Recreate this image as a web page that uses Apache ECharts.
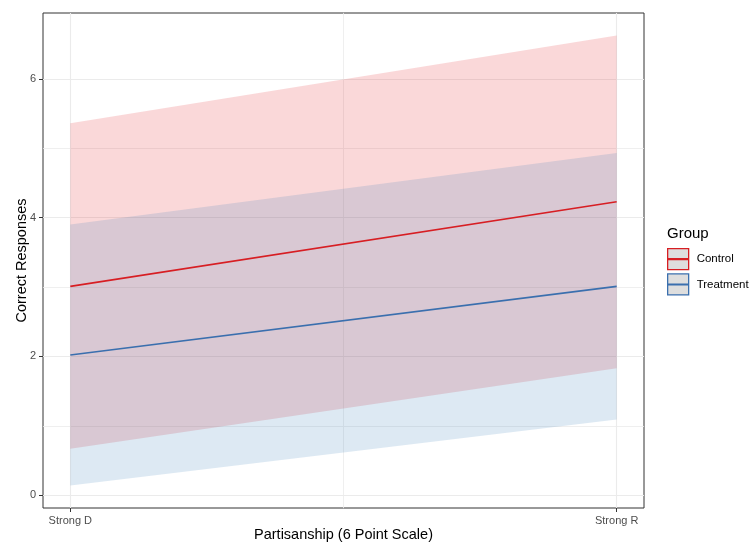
<!DOCTYPE html>
<html>
<head>
<meta charset="utf-8">
<script src="https://cdn.jsdelivr.net/npm/echarts@6/dist/echarts.min.js"></script>
<style>
  html, body { margin: 0; padding: 0; background: #ffffff; }
  #chart { width: 754px; height: 546px; }
</style>
</head>
<body>
<div id="chart"></div>
<script>
// Partisanship scale positions (1 = Strong D ... 6 = Strong R)
const xPoints = [1, 6];
const xTickLabels = { 1: 'Strong D', 6: 'Strong R' };
const yTicks = [0, 2, 4, 6];
const groups = ['Control', 'Treatment'];

// Predicted correct responses and confidence band per group
const controlFit = [3.01, 4.23];
const controlLower = [0.67, 1.83];
const controlUpper = [5.36, 6.625];
const treatmentFit = [2.02, 3.01];
const treatmentLower = [0.14, 1.09];
const treatmentUpper = [3.90, 4.93];

const fillColors = { Control: '#E41A1C', Treatment: '#377EB8' };
const lineColors = { Control: '#D71E23', Treatment: '#3A6FAE' };
const bandAlpha = 0.17;

function rgba(hex, a) {
  const n = parseInt(hex.slice(1), 16);
  return 'rgba(' + (n >> 16) + ',' + ((n >> 8) & 255) + ',' + (n & 255) + ',' + a + ')';
}

// ggplot-style 5% expansion of the data range
function expand(lo, hi) {
  const pad = (hi - lo) * 0.05;
  return [lo - pad, hi + pad];
}
const allY = [].concat(controlLower, controlUpper, treatmentLower, treatmentUpper);
const yRange = expand(Math.min.apply(null, allY), Math.max.apply(null, allY));
const xRange = expand(Math.min.apply(null, xPoints), Math.max.apply(null, xPoints));

// Grid lines: majors at ticks, minors half-way between them
const xMinor = [];
for (let i = 0; i < xPoints.length - 1; i++) xMinor.push((xPoints[i] + xPoints[i + 1]) / 2);
const yMinor = [];
for (let i = 0; i < yTicks.length - 1; i++) yMinor.push((yTicks[i] + yTicks[i + 1]) / 2);

const gridColor = '#EBEBEB';
const gridLines = []
  .concat(yTicks.map(v => ({ yAxis: v, lineStyle: { width: 1.1 } })))
  .concat(yMinor.map(v => ({ yAxis: v, lineStyle: { width: 0.8 } })))
  .concat(xPoints.map(v => ({ xAxis: v, lineStyle: { width: 1.1 } })))
  .concat(xMinor.map(v => ({ xAxis: v, lineStyle: { width: 0.8 } })));

function pairs(ys) { return xPoints.map((x, i) => [x, ys[i]]); }

// Each band item spans two neighbouring x positions: [x0, lo0, hi0, x1, lo1, hi1]
function bandItems(lo, hi) {
  const items = [];
  for (let i = 0; i < xPoints.length - 1; i++) {
    items.push([xPoints[i], lo[i], hi[i], xPoints[i + 1], lo[i + 1], hi[i + 1]]);
  }
  return items;
}

function bandSeries(name, lo, hi, z) {
  const fill = rgba(fillColors[name], bandAlpha);
  return {
    name: name + ' band', type: 'custom', silent: true, z: z,
    encode: { x: [0, 3], y: [1, 2, 4, 5] },
    data: bandItems(lo, hi),
    renderItem: function (params, api) {
      const a = api.coord([api.value(0), api.value(1)]);
      const b = api.coord([api.value(3), api.value(4)]);
      const c = api.coord([api.value(3), api.value(5)]);
      const d = api.coord([api.value(0), api.value(2)]);
      return {
        type: 'polygon',
        shape: { points: [a, b, c, d] },
        style: { fill: fill, stroke: null }
      };
    }
  };
}

function fitSeries(name, ys) {
  return {
    name: name, type: 'line', data: pairs(ys), symbol: 'none', z: 12,
    color: lineColors[name],
    lineStyle: { color: lineColors[name], width: 1.6 }
  };
}

const keyIcon = 'path://M0,0L20,0L20,20L0,20Z M0,9.6L20,9.6L20,10.4L0,10.4Z';

const option = {
  animation: false,
  backgroundColor: '#ffffff',
  textStyle: { fontFamily: 'Liberation Sans, Arial, sans-serif' },
  grid: {
    left: 43, right: 110, top: 13, bottom: 38,
    outerBoundsMode: 'none', containLabel: false,
    show: true, borderColor: '#333333', borderWidth: 1, backgroundColor: 'transparent'
  },
  title: {
    text: 'Group', left: 667, top: 226, padding: 0,
    textStyle: { fontSize: 15, fontWeight: 'normal', color: '#000000', fontFamily: 'Liberation Sans, Arial, sans-serif' }
  },
  legend: {
    orient: 'vertical', left: 667, top: 248, padding: 0,
    itemWidth: 21, itemHeight: 21, itemGap: 3,
    selectedMode: false,
    textStyle: { fontSize: 11.5, color: '#000000', padding: [0, 0, 0, 3] },
    data: groups.map(g => ({
      name: g, icon: keyIcon,
      itemStyle: { color: '#DEDEDE', borderColor: lineColors[g], borderWidth: 1.3, opacity: 1 }
    }))
  },
  xAxis: {
    type: 'value', min: xRange[0], max: xRange[1],
    name: 'Partisanship (6 Point Scale)', nameLocation: 'middle', nameGap: 19,
    nameMoveOverlap: false,
    nameTextStyle: { fontSize: 14.5, color: '#000000' },
    axisLine: { show: false, onZero: false },
    axisTick: { show: true, customValues: xPoints, length: 4, lineStyle: { color: '#333333', width: 1 } },
    axisLabel: {
      customValues: xPoints, margin: 7, fontSize: 11, color: '#4D4D4D',
      formatter: v => xTickLabels[v] || ''
    },
    splitLine: { show: false }
  },
  yAxis: {
    type: 'value', min: yRange[0], max: yRange[1],
    name: 'Correct Responses', nameLocation: 'middle', nameGap: 14,
    nameMoveOverlap: false,
    nameTextStyle: { fontSize: 14.5, color: '#000000' },
    axisLine: { show: false, onZero: false },
    axisTick: { show: true, customValues: yTicks, length: 4, lineStyle: { color: '#333333', width: 1 } },
    axisLabel: { customValues: yTicks, margin: 7, fontSize: 11, color: '#4D4D4D' },
    splitLine: { show: false }
  },
  series: [
    {
      name: 'grid', type: 'line', data: [], silent: true, z: 0,
      markLine: {
        silent: true, symbol: 'none', animation: false, z: 0,
        label: { show: false },
        lineStyle: { color: gridColor, type: 'solid' },
        emphasis: { disabled: true },
        data: gridLines
      }
    },
    bandSeries('Control', controlLower, controlUpper, 8),
    bandSeries('Treatment', treatmentLower, treatmentUpper, 9),
    fitSeries('Control', controlFit),
    fitSeries('Treatment', treatmentFit)
  ]
};

const chart = echarts.init(document.getElementById('chart'), null, { renderer: 'canvas' });
chart.setOption(option);
</script>
</body>
</html>
